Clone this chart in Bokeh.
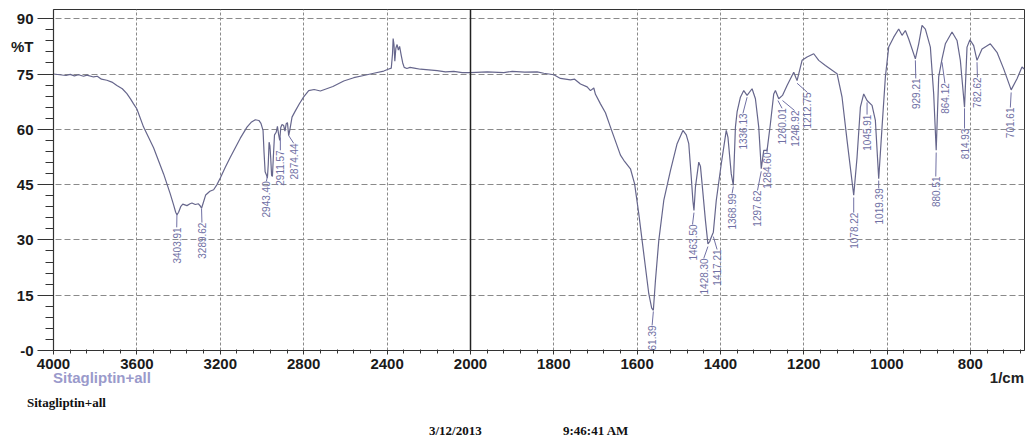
import math
from bokeh.plotting import figure
from bokeh.layouts import column
from bokeh.models import Range1d, LinearAxis, FixedTicker, Grid, Span, Div
from bokeh.core.properties import value
from bokeh.embed import file_html
from bokeh.resources import INLINE

# ---------------- data ----------------
# high-wavenumber half: 4000 -> 2000 1/cm
hi_wn = [4000, 3970, 3940, 3920, 3900, 3880, 3856, 3840, 3808, 3790, 3770, 3744, 3720, 3696,
         3670, 3648, 3630, 3616, 3600, 3568, 3520, 3472, 3440, 3424, 3414, 3408, 3400, 3390,
         3380, 3360, 3345, 3336, 3320, 3305, 3296, 3290, 3282, 3270, 3250, 3232, 3216, 3200,
         3176, 3152, 3128, 3104, 3072, 3050, 3032, 3015, 3005, 2995, 2990, 2985, 2978, 2974,
         2970, 2966, 2962, 2958, 2954, 2950, 2946, 2940, 2932, 2926, 2920, 2915, 2910, 2904,
         2896, 2890, 2884, 2878, 2872, 2866, 2856, 2840, 2820, 2800, 2776, 2750, 2720, 2690,
         2660, 2608, 2560, 2512, 2464, 2416, 2395, 2380, 2374, 2371, 2367, 2363, 2358, 2352,
         2346, 2340, 2332, 2325, 2318, 2305, 2290, 2270, 2240, 2200, 2160, 2120, 2080, 2040, 2000]
hi_T = [75.0, 74.8, 74.6, 74.9, 74.5, 74.8, 74.4, 74.7, 74.2, 74.4, 73.6, 73.3, 72.8, 71.9,
        71.0, 69.7, 68.2, 66.9, 65.5, 60.6, 55.0, 47.9, 42.5, 39.5, 37.5, 36.8, 37.5, 39.0,
        39.7, 39.3, 39.8, 40.0, 39.6, 39.8, 39.2, 38.6, 40.0, 42.2, 43.2, 43.6, 45.0, 46.8,
        49.7, 52.4, 55.0, 57.6, 60.6, 62.0, 62.6, 62.4, 61.6, 59.7, 53.5, 48.5, 47.5, 46.8,
        50.5, 56.5, 55.5, 52.0, 47.5, 47.2, 52.0, 58.5, 59.2, 60.8, 58.5, 57.0, 60.5, 61.3,
        61.0, 59.5, 61.5, 61.8, 58.3, 60.0, 63.3, 65.0, 67.0, 68.8, 70.5, 70.8, 70.4, 71.0,
        71.6, 73.1, 74.0, 74.6, 75.2, 75.8, 76.3, 76.6, 80.5, 84.6, 83.0, 78.5, 82.0, 83.0,
        81.5, 82.5, 80.0, 78.0, 76.8, 76.5, 76.8, 76.6, 76.3, 76.1, 75.9, 75.6, 75.7, 75.4, 75.4]

# low-wavenumber half: 2000 -> 670 1/cm
lo_wn = [2000, 1960, 1920, 1900, 1870, 1840, 1824, 1800, 1784, 1760, 1750, 1736, 1720, 1712,
         1704, 1700, 1688, 1676, 1664, 1652, 1640, 1632, 1616, 1606, 1596, 1584, 1572, 1565,
         1561, 1556, 1548, 1536, 1520, 1504, 1490, 1482, 1476, 1470, 1466, 1463.5, 1460, 1452,
         1448, 1444, 1436, 1430, 1426, 1422, 1417, 1410, 1398, 1386, 1382, 1374, 1369, 1364,
         1360, 1352, 1344, 1336, 1324, 1316, 1308, 1302, 1296, 1288, 1280, 1272, 1268, 1260,
         1251, 1240, 1224, 1216, 1204, 1192, 1176, 1164, 1148, 1120, 1108, 1096, 1080, 1072,
         1064, 1056, 1048, 1036, 1028, 1020, 1012, 1004, 996, 984, 972, 964, 956, 948, 932,
         924, 916, 908, 896, 888, 882, 876, 868, 860, 844, 832, 824, 814, 808, 801, 792, 784,
         772, 752, 736, 720, 702, 688, 676, 670]
lo_T = [75.4, 75.6, 75.4, 75.7, 75.5, 75.6, 75.2, 74.8, 73.8, 73.4, 73.6, 72.3, 71.5, 70.5,
        71.2, 69.5, 66.9, 64.5, 60.6, 56.8, 53.0, 51.6, 49.3, 45.2, 37.1, 26.2, 15.4, 11.5,
        10.9, 19.0, 29.8, 40.7, 48.8, 56.1, 59.7, 58.5, 56.1, 47.0, 40.5, 38.0, 44.3, 51.1,
        50.0, 45.2, 35.3, 28.9, 29.5, 30.7, 32.1, 40.7, 50.6, 59.7, 57.9, 47.9, 44.8, 60.6,
        64.7, 68.7, 70.5, 69.2, 71.0, 68.3, 60.6, 49.3, 54.3, 54.3, 61.5, 69.6, 70.5, 68.3,
        69.2, 71.9, 75.5, 73.2, 78.7, 79.6, 80.5, 78.7, 77.3, 75.1, 68.7, 57.0, 42.1, 52.4,
        66.0, 69.6, 67.8, 66.5, 62.4, 46.6, 60.6, 74.2, 82.3, 85.0, 87.2, 85.5, 86.8, 84.5, 79.1,
        83.2, 88.2, 87.2, 82.3, 69.6, 54.3, 74.2, 79.1, 83.2, 86.4, 84.1, 78.7, 66.0, 82.3, 84.3,
        82.7, 78.7, 81.8, 83.2, 80.9, 76.4, 70.7, 73.7, 76.9, 76.3]

# peak labels, high half
hi_pk_text = ["3403.91", "3289.62", "2943.40", "2911.57", "2874.44"]
hi_pk_wn = [3408, 3290, 2974, 2912, 2872]
hi_pk_T = [36.9, 38.5, 47.2, 57.8, 58.3]
# peak labels, low half
lo_pk_text = ["1561.39", "1463.50", "1428.30", "1417.21", "1368.99", "1336.13", "1297.62",
              "1284.60", "1260.01", "1248.92", "1212.75", "1078.22", "1045.91", "1019.39",
              "929.21", "880.51", "864.12", "814.93", "782.62", "701.61"]
lo_pk_wn = [1561, 1463.5, 1430, 1417, 1369, 1336, 1302, 1288, 1262, 1251, 1216, 1080, 1048,
            1020, 932, 882, 868, 814, 784, 702]
lo_pk_T = [10.6, 37.4, 28.2, 30.9, 44.5, 68.7, 48.6, 54.8, 67.8, 67.8, 72.5, 41.5, 67.3, 46.1,
           78.7, 53.7, 78.2, 65.7, 78.2, 70.0]

# where each label text sits (its top end)
hi_lab_wn = [3409, 3288, 2979, 2912, 2848]
hi_lab_T = [33.4, 34.7, 45.9, 54.3, 56.2]
lo_lab_wn = [1564, 1467, 1440, 1408, 1372, 1346, 1311, 1288, 1252, 1222, 1191, 1080, 1048,
             1020, 931, 883, 861, 814, 783, 704]
lo_lab_T = [6.8, 34.2, 25.0, 27.4, 42.6, 64.3, 43.4, 53.7, 65.7, 65.1, 70.0, 37.4, 64.0, 44.0,
            73.8, 47.2, 72.5, 60.2, 74.1, 65.9]

x_major_hi = [4000, 3600, 3200, 2800, 2400, 2000]
x_minor_hi = [v for v in range(3920, 2000, -80) if v % 400 != 0]
x_major_lo = [1800, 1600, 1400, 1200, 1000, 800]
x_minor_lo = [v for v in range(1960, 670, -40) if v % 200 != 0]
y_major = [0, 15, 30, 45, 60, 75, 90]
y_minor = [v for v in range(3, 92, 3) if v % 15 != 0]
y_title = "%T"
x_title = "1/cm"
sample_name = "Sitagliptin+all"
date_text = "3/12/2013"
time_text = "9:46:41 AM"

# ---------------- layout ----------------
W = 1026
FIG_H = 377
L, R, T, B = 53, 2, 9, 27
frame_w = W - L - R
left_px = 417                     # width of the 4000..2000 part
right_px = frame_w - left_px      # width of the 2000..670 part
X0, XS, X1 = 4000, 2000, 670
rangeA = Range1d(X0, X0 - (X0 - XS) * frame_w / left_px)
rangeB = Range1d(XS + (XS - X1) * left_px / right_px, X1)


def b_to_a(b):
    """position in range B expressed in range A (same frame pixel)"""
    f = (rangeB.start - b) / (rangeB.start - rangeB.end)
    return round(rangeA.start + f * (rangeA.end - rangeA.start), 4)


p = figure(width=W, height=FIG_H, x_range=rangeA, y_range=Range1d(0, 92.5),
           output_backend="svg", toolbar_location=None,
           min_border_left=L, min_border_right=R, min_border_top=T, min_border_bottom=B,
           background_fill_color="white", border_fill_color="white")
p.extra_x_ranges = {"B": rangeB}
p.outline_line_color = "#333333"
p.outline_line_width = 1

grid_col = "#8a8a8a"
p.xgrid.ticker = FixedTicker(ticks=x_major_hi[1:-1])
p.xgrid.grid_line_color = grid_col
p.xgrid.grid_line_dash = "3 2"
p.ygrid.ticker = FixedTicker(ticks=y_major[1:])
p.ygrid.grid_line_color = grid_col
p.ygrid.grid_line_dash = "6 3"
gridB = Grid(dimension=0, x_range_name="B", ticker=FixedTicker(ticks=x_major_lo),
             grid_line_color=grid_col, grid_line_dash="3 2")
p.add_layout(gridB)

# x axis: one axis, both halves (right-half ticks placed through range B)
axA = p.xaxis[0]
lo_ticks = [b_to_a(b) for b in x_major_lo]
axA.ticker = FixedTicker(ticks=x_major_hi + lo_ticks,
                         minor_ticks=x_minor_hi + [b_to_a(b) for b in x_minor_lo])
axA.major_label_overrides = {t: str(b) for t, b in zip(lo_ticks, x_major_lo)}
axA.major_tick_in = 0
axA.major_tick_out = 4
axA.minor_tick_in = 1
axA.minor_tick_out = 3
axA.major_label_standoff = 4
axA.axis_line_color = "#333333"
axA.axis_line_width = 1.2
axA.major_tick_line_color = "#333333"
axA.minor_tick_line_color = "#333333"
axA.major_label_text_font = "Liberation Sans"
axA.major_label_text_font_style = "bold"
axA.major_label_text_font_size = "15px"
axA.major_label_text_color = "#1a1a1a"

# y axis: ticks on the main axis, labels on a second axis further left
ay = p.yaxis[0]
ay.ticker = FixedTicker(ticks=y_major, minor_ticks=y_minor)
ay.major_tick_in = 0
ay.major_tick_out = 16
ay.minor_tick_in = 0
ay.minor_tick_out = 8
ay.major_label_standoff = 0
ay.major_label_text_font_size = "0px"
ay.major_label_overrides = {t: "" for t in y_major}
ay.axis_line_color = "#333333"
ay.axis_line_width = 1.2
ay.major_tick_line_color = "#333333"
ay.minor_tick_line_color = "#333333"

ay2 = LinearAxis(ticker=FixedTicker(ticks=y_major + [82.5], minor_ticks=[]))
ay2.major_label_overrides = {0: "-0", 82.5: y_title}
ay2.axis_line_color = None
ay2.major_tick_line_color = None
ay2.minor_tick_line_color = None
ay2.major_tick_in = 0
ay2.major_tick_out = 0
ay2.minor_tick_out = 0
ay2.major_label_standoff = 4
ay2.major_label_text_font = "Liberation Sans"
ay2.major_label_text_font_style = "bold"
ay2.major_label_text_font_size = "15px"
ay2.major_label_text_color = "#1a1a1a"
p.add_layout(ay2, "left")

p.add_layout(Span(location=XS, dimension="height", line_color="#222222", line_width=1.5))

curve_col = "#66668c"
lab_col = "#7070a4"
p.line(hi_wn, hi_T, line_color=curve_col, line_width=1.2)
p.line(lo_wn, lo_T, line_color=curve_col, line_width=1.2, x_range_name="B")

p.segment(x0=hi_pk_wn, y0=hi_pk_T, x1=hi_lab_wn, y1=hi_lab_T, line_color=lab_col, line_width=1)
p.segment(x0=lo_pk_wn, y0=lo_pk_T, x1=lo_lab_wn, y1=lo_lab_T, line_color=lab_col, line_width=1,
          x_range_name="B")
txt_kw = dict(angle=math.pi / 2, text_align="right", text_baseline="middle",
              text_font=value("Liberation Sans"), text_font_size="10px", text_color=lab_col)
p.text(x=hi_lab_wn, y=hi_lab_T, text=hi_pk_text, **txt_kw)
p.text(x=lo_lab_wn, y=lo_lab_T, text=lo_pk_text, x_range_name="B", **txt_kw)

# ---------------- footer texts ----------------
OVER = 11   # footer overlaps the bottom of the figure by this much
sans = "font-family:'Liberation Sans',Arial,sans-serif;font-weight:bold;font-size:15px;line-height:15px;"
serif = "font-family:'Liberation Serif','Times New Roman',serif;font-weight:bold;font-size:13px;line-height:13px;color:#111;"
footer_html = f"""
<div style="position:relative;width:{W}px;height:{441 - FIG_H + OVER}px;">
 <span style="position:absolute;left:53px;top:4px;{sans}color:#9a9acb;white-space:nowrap;">{sample_name}</span>
 <span style="position:absolute;right:2px;top:4px;{sans}color:#222;white-space:nowrap;">{x_title}</span>
 <span style="position:absolute;left:27px;top:30px;{serif}white-space:nowrap;">{sample_name}</span>
 <span style="position:absolute;left:429px;top:58px;{serif}white-space:nowrap;">{date_text}</span>
 <span style="position:absolute;left:563px;top:58px;{serif}white-space:nowrap;">{time_text}</span>
</div>
"""
footer = Div(text=footer_html, width=W, height=441 - FIG_H + OVER, margin=(-OVER, 0, 0, 0))

layout = column(p, footer, spacing=0)
open("out.html", "w").write(file_html(layout, INLINE))
